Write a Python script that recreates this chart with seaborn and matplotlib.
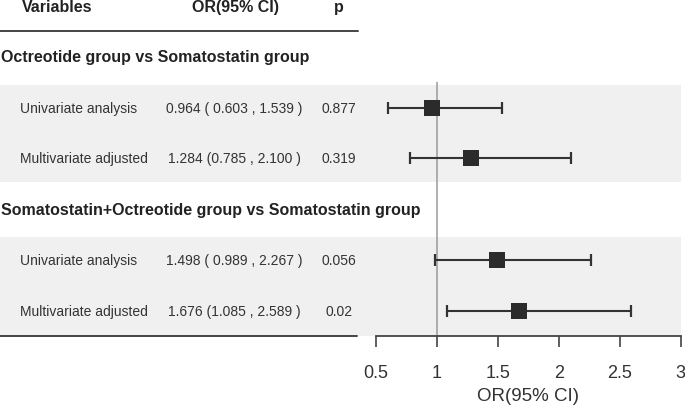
import matplotlib
matplotlib.use("Agg")
import matplotlib.pyplot as plt
import seaborn as sns
import pandas as pd

# --- Data ---
groups = ["Octreotide group vs Somatostatin group",
          "Somatostatin+Octreotide group vs Somatostatin group"]
row_labels = ["Univariate analysis", "Multivariate adjusted",
              "Univariate analysis", "Multivariate adjusted"]
or_vals = [0.964, 1.284, 1.498, 1.676]
ci_low = [0.603, 0.785, 0.989, 1.085]
ci_high = [1.539, 2.100, 2.267, 2.589]
ci_text = ["0.964 ( 0.603 , 1.539 )", "1.284 (0.785 , 2.100 )",
           "1.498 ( 0.989 , 2.267 )", "1.676 (1.085 , 2.589 )"]
p_text = ["0.877", "0.319", "0.056", "0.02"]
x_ticks = [0.5, 1, 1.5, 2, 2.5, 3]
x_ticklabels = ["0.5", "1", "1.5", "2", "2.5", "3"]

sns.set_theme(style="white")
plt.rcParams["font.family"] = ["Liberation Sans", "DejaVu Sans"]

# row positions (row 0 = header)
heading_rows = [1, 4]
data_rows = [2, 3, 5, 6]
df = pd.DataFrame({"row": data_rows, "OR": or_vals, "lo": ci_low, "hi": ci_high})

W, H = 685, 406
axis_px = 337  # pixel row (from top) of the x axis line
fig = plt.figure(figsize=(W / 100, H / 100), dpi=100)
ax_bottom = (H - axis_px) / H
ax_height = axis_px / H
ylim = (6.5, -0.14)

# left table axes in pixel-like x units
axt = fig.add_axes([0, ax_bottom, 360 / W, ax_height])
axt.set_xlim(0, 360)
axt.set_ylim(*ylim)
axt.axis("off")

# right forest axes
x0_px, x1_px = 358, 685
px_per_unit = 122.0
axf = fig.add_axes([x0_px / W, ax_bottom, (x1_px - x0_px) / W, ax_height])
xl = 0.5 - (375.7 - x0_px) / px_per_unit
xr = xl + (x1_px - x0_px) / px_per_unit
axf.set_xlim(xl, xr)
axf.set_ylim(*ylim)

band = "#f0f0f0"
for top, bottom in [(2 - 0.45, 3 + 0.46), (5 - 0.45, 6 + 0.5)]:
    axt.axhspan(top, bottom, color=band, lw=0, zorder=0)
    axf.axhspan(top, bottom, xmin=0, xmax=(681 - x0_px) / (x1_px - x0_px),
                color=band, lw=0, zorder=0)

# table lines
axt.plot([0, 358], [0.49, 0.49], color="#444444", lw=1.4, clip_on=False)
axt.plot([0, 357], [6.5, 6.5], color="#444444", lw=1.4, clip_on=False)

txt = "#333333"
bold = dict(fontsize=11.5, fontweight="bold", color="#222222", va="center")
axt.text(22, 0, "Variables", ha="left", **bold)
axt.text(235, 0, "OR(95% CI)", ha="center", **bold)
axt.text(339, 0, "p", ha="center", **bold)
for r, g in zip(heading_rows, groups):
    axt.text(1, r, g, ha="left", clip_on=False, **bold)
for r, lab, ci, p in zip(data_rows, row_labels, ci_text, p_text):
    axt.text(20.5, r, lab, ha="left", va="center", fontsize=10, color=txt)
    axt.text(234.5, r, ci, ha="center", va="center", fontsize=10, color=txt)
    axt.text(339, r, p, ha="center", va="center", fontsize=10, color=txt)

# forest
axf.vlines(1, 1.5, 6.5, color="#9a9a9a", lw=1.1, zorder=1)
axf.errorbar(df["OR"], df["row"],
             xerr=[df["OR"] - df["lo"], df["hi"] - df["OR"]],
             fmt="none", ecolor="#333333", elinewidth=1.5, capsize=4.3,
             capthick=1.6, zorder=2)
sns.scatterplot(data=df, x="OR", y="row", marker="s", s=135, color="#2b2b2b",
                linewidth=0, ax=axf, zorder=3, legend=False)
axf.set_ylim(*ylim)

for s in ["top", "right", "left"]:
    axf.spines[s].set_visible(False)
axf.spines["bottom"].set_bounds(0.5, 3)
axf.spines["bottom"].set_color("#444444")
axf.spines["bottom"].set_linewidth(1.3)
axf.set_yticks([])
axf.set_xticks(x_ticks)
axf.set_xticklabels(x_ticklabels)
axf.tick_params(axis="x", direction="out", length=8, width=1.2, color="#444444",
                labelsize=13, labelcolor="#333333", pad=12, bottom=True)
axf.set_xlabel("OR(95% CI)", fontsize=13.5, color="#333333")
axf.set_ylabel("")
axf.xaxis.set_label_coords((528 - x0_px) / (x1_px - x0_px), -51 / axis_px)
axf.set_facecolor("none")

fig.savefig("out.png", dpi=100)
